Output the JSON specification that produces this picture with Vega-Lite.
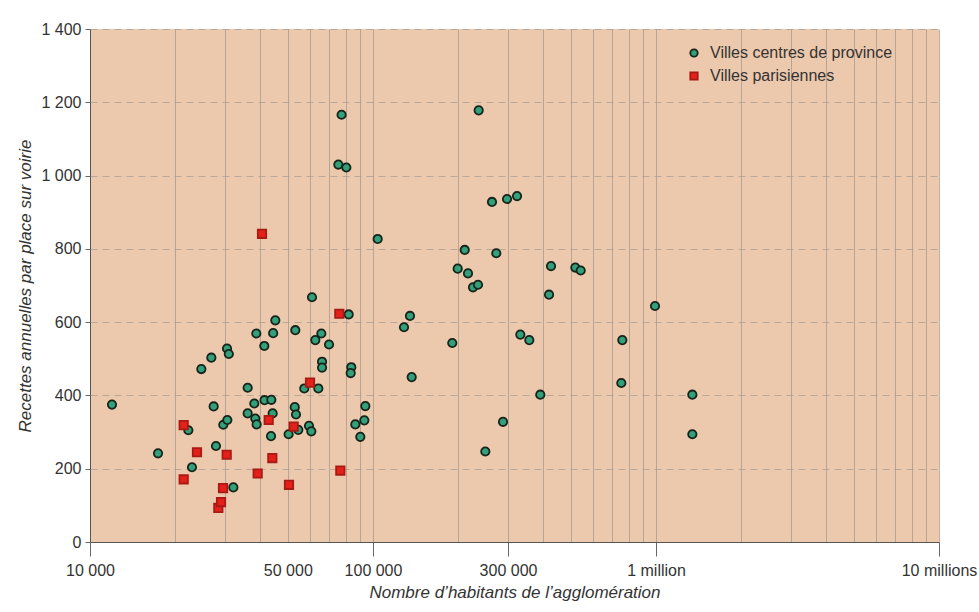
{
  "$schema": "https://vega.github.io/schema/vega-lite/v6.json",
  "width": 849,
  "height": 513,
  "autosize": "none",
  "padding": {"left": 90, "top": 29, "right": 40, "bottom": 70},
  "background": "white",
  "config": {
    "view": {"fill": "#ecc8ac", "stroke": null},
    "font": "Liberation Sans"
  },
  "data": {
    "values": [
      {"pop": 11960, "rec": 375, "type": "Villes centres de province"},
      {"pop": 17390, "rec": 242, "type": "Villes centres de province"},
      {"pop": 22260, "rec": 305, "type": "Villes centres de province"},
      {"pop": 22930, "rec": 204, "type": "Villes centres de province"},
      {"pop": 24740, "rec": 472, "type": "Villes centres de province"},
      {"pop": 26840, "rec": 503, "type": "Villes centres de province"},
      {"pop": 27350, "rec": 370, "type": "Villes centres de province"},
      {"pop": 27870, "rec": 262, "type": "Villes centres de province"},
      {"pop": 29580, "rec": 320, "type": "Villes centres de province"},
      {"pop": 30490, "rec": 528, "type": "Villes centres de province"},
      {"pop": 30570, "rec": 333, "type": "Villes centres de province"},
      {"pop": 30940, "rec": 513, "type": "Villes centres de province"},
      {"pop": 32100, "rec": 149, "type": "Villes centres de province"},
      {"pop": 36070, "rec": 421, "type": "Villes centres de province"},
      {"pop": 36070, "rec": 351, "type": "Villes centres de province"},
      {"pop": 38070, "rec": 378, "type": "Villes centres de province"},
      {"pop": 38380, "rec": 337, "type": "Villes centres de province"},
      {"pop": 38700, "rec": 569, "type": "Villes centres de province"},
      {"pop": 38800, "rec": 321, "type": "Villes centres de province"},
      {"pop": 41300, "rec": 535, "type": "Villes centres de province"},
      {"pop": 41370, "rec": 387, "type": "Villes centres de province"},
      {"pop": 43720, "rec": 388, "type": "Villes centres de province"},
      {"pop": 43620, "rec": 289, "type": "Villes centres de province"},
      {"pop": 44200, "rec": 351, "type": "Villes centres de province"},
      {"pop": 44380, "rec": 570, "type": "Villes centres de province"},
      {"pop": 45170, "rec": 605, "type": "Villes centres de province"},
      {"pop": 50330, "rec": 294, "type": "Villes centres de province"},
      {"pop": 53150, "rec": 578, "type": "Villes centres de province"},
      {"pop": 52910, "rec": 368, "type": "Villes centres de province"},
      {"pop": 53450, "rec": 348, "type": "Villes centres de province"},
      {"pop": 54460, "rec": 306, "type": "Villes centres de province"},
      {"pop": 57170, "rec": 419, "type": "Villes centres de province"},
      {"pop": 59410, "rec": 317, "type": "Villes centres de province"},
      {"pop": 60540, "rec": 302, "type": "Villes centres de province"},
      {"pop": 60880, "rec": 668, "type": "Villes centres de province"},
      {"pop": 62540, "rec": 551, "type": "Villes centres de province"},
      {"pop": 64090, "rec": 419, "type": "Villes centres de province"},
      {"pop": 65680, "rec": 569, "type": "Villes centres de province"},
      {"pop": 66060, "rec": 492, "type": "Villes centres de province"},
      {"pop": 66060, "rec": 476, "type": "Villes centres de province"},
      {"pop": 69920, "rec": 539, "type": "Villes centres de province"},
      {"pop": 77450, "rec": 1166, "type": "Villes centres de province"},
      {"pop": 75430, "rec": 1030, "type": "Villes centres de province"},
      {"pop": 80490, "rec": 1022, "type": "Villes centres de province"},
      {"pop": 82050, "rec": 621, "type": "Villes centres de province"},
      {"pop": 83800, "rec": 477, "type": "Villes centres de province"},
      {"pop": 83400, "rec": 461, "type": "Villes centres de province"},
      {"pop": 86600, "rec": 321, "type": "Villes centres de province"},
      {"pop": 90190, "rec": 287, "type": "Villes centres de province"},
      {"pop": 93180, "rec": 332, "type": "Villes centres de province"},
      {"pop": 93940, "rec": 371, "type": "Villes centres de province"},
      {"pop": 103870, "rec": 827, "type": "Villes centres de province"},
      {"pop": 128700, "rec": 586, "type": "Villes centres de province"},
      {"pop": 135100, "rec": 617, "type": "Villes centres de province"},
      {"pop": 137000, "rec": 450, "type": "Villes centres de province"},
      {"pop": 190600, "rec": 543, "type": "Villes centres de province"},
      {"pop": 199200, "rec": 746, "type": "Villes centres de province"},
      {"pop": 210900, "rec": 797, "type": "Villes centres de province"},
      {"pop": 216600, "rec": 733, "type": "Villes centres de province"},
      {"pop": 225600, "rec": 695, "type": "Villes centres de province"},
      {"pop": 235000, "rec": 702, "type": "Villes centres de province"},
      {"pop": 236300, "rec": 1178, "type": "Villes centres de province"},
      {"pop": 249400, "rec": 247, "type": "Villes centres de province"},
      {"pop": 263300, "rec": 928, "type": "Villes centres de province"},
      {"pop": 272700, "rec": 788, "type": "Villes centres de province"},
      {"pop": 288000, "rec": 328, "type": "Villes centres de province"},
      {"pop": 297600, "rec": 936, "type": "Villes centres de province"},
      {"pop": 322800, "rec": 944, "type": "Villes centres de province"},
      {"pop": 331600, "rec": 566, "type": "Villes centres de province"},
      {"pop": 356700, "rec": 551, "type": "Villes centres de province"},
      {"pop": 390100, "rec": 402, "type": "Villes centres de province"},
      {"pop": 418800, "rec": 675, "type": "Villes centres de province"},
      {"pop": 425600, "rec": 753, "type": "Villes centres de province"},
      {"pop": 518700, "rec": 749, "type": "Villes centres de province"},
      {"pop": 541900, "rec": 741, "type": "Villes centres de province"},
      {"pop": 754100, "rec": 434, "type": "Villes centres de province"},
      {"pop": 760300, "rec": 551, "type": "Villes centres de province"},
      {"pop": 991900, "rec": 644, "type": "Villes centres de province"},
      {"pop": 1344000, "rec": 402, "type": "Villes centres de province"},
      {"pop": 1344000, "rec": 294, "type": "Villes centres de province"},
      {"pop": 21430, "rec": 319, "type": "Villes parisiennes"},
      {"pop": 21430, "rec": 171, "type": "Villes parisiennes"},
      {"pop": 23880, "rec": 245, "type": "Villes parisiennes"},
      {"pop": 28410, "rec": 93, "type": "Villes parisiennes"},
      {"pop": 29040, "rec": 109, "type": "Villes parisiennes"},
      {"pop": 29510, "rec": 147, "type": "Villes parisiennes"},
      {"pop": 30410, "rec": 238, "type": "Villes parisiennes"},
      {"pop": 39130, "rec": 187, "type": "Villes parisiennes"},
      {"pop": 40530, "rec": 841, "type": "Villes parisiennes"},
      {"pop": 42800, "rec": 333, "type": "Villes parisiennes"},
      {"pop": 44080, "rec": 229, "type": "Villes parisiennes"},
      {"pop": 50480, "rec": 156, "type": "Villes parisiennes"},
      {"pop": 52440, "rec": 315, "type": "Villes parisiennes"},
      {"pop": 59900, "rec": 435, "type": "Villes parisiennes"},
      {"pop": 76030, "rec": 623, "type": "Villes parisiennes"},
      {"pop": 76650, "rec": 195, "type": "Villes parisiennes"}
    ]
  },
  "mark": {"type": "point", "filled": true, "opacity": 1, "strokeWidth": 1.8, "size": 70},
  "encoding": {
    "x": {
      "field": "pop",
      "type": "quantitative",
      "scale": {"type": "log", "domain": [10000, 10000000], "nice": false},
      "axis": {
        "title": "Nombre d’habitants de l’agglomération",
        "titleFont": "Liberation Sans",
        "titleFontSize": 17,
        "titleFontStyle": "italic",
        "titleFontWeight": "normal",
        "titleColor": "#333333",
        "titlePadding": 6,
        "values": [10000, 20000, 30000, 40000, 50000, 60000, 70000, 80000, 90000, 100000, 200000, 300000, 400000, 500000, 600000, 700000, 800000, 900000, 1000000, 2000000, 3000000, 4000000, 5000000, 6000000, 7000000, 8000000, 9000000, 10000000],
        "labelExpr": "datum.value == 10000 ? '10 000' : datum.value == 50000 ? '50 000' : datum.value == 100000 ? '100 000' : datum.value == 300000 ? '300 000' : datum.value == 1000000 ? '1 million' : datum.value == 10000000 ? '10 millions' : ''",
        "labelOverlap": false,
        "labelFlush": false,
        "labelFontSize": 16,
        "labelColor": "#333333",
        "labelPadding": 6,
        "tickSize": 14,
        "tickColor": "#666666",
        "tickOpacity": {"condition": {"test": "datum.value == 10000 || datum.value == 100000 || datum.value == 300000 || datum.value == 1000000 || datum.value == 10000000", "value": 1}, "value": 0},
        "domainColor": "#555555",
        "grid": true,
        "gridColor": "#a8988c",
        "gridOpacity": 0.75,
        "gridWidth": 1
      }
    },
    "y": {
      "field": "rec",
      "type": "quantitative",
      "scale": {"domain": [0, 1400], "nice": false},
      "axis": {
        "title": "Recettes annuelles par place sur voirie",
        "titleFont": "Liberation Sans",
        "titleFontSize": 17,
        "titleFontStyle": "italic",
        "titleFontWeight": "normal",
        "titleColor": "#333333",
        "titlePadding": 6,
        "values": [0, 200, 400, 600, 800, 1000, 1200, 1400],
        "labelExpr": "replace(format(datum.value, ','), ',', ' ')",
        "labelFontSize": 16,
        "labelColor": "#333333",
        "labelPadding": 4,
        "tickSize": 5,
        "tickColor": "#666666",
        "domainColor": "#555555",
        "grid": true,
        "gridColor": "#a89c94",
        "gridDash": [7, 5],
        "gridOpacity": 0.75
      }
    },
    "color": {
      "field": "type",
      "type": "nominal",
      "scale": {"domain": ["Villes centres de province", "Villes parisiennes"], "range": ["#33a07a", "#e5201b"]},
      "legend": {
        "title": null,
        "orient": "none",
        "legendX": 596,
        "legendY": 16,
        "labelFontSize": 16,
        "labelColor": "#333333",
        "labelLimit": 400,
        "symbolSize": 55,
        "symbolStrokeWidth": 1.8,
        "rowPadding": 7,
        "labelOffset": 8
      }
    },
    "shape": {
      "field": "type",
      "type": "nominal",
      "scale": {"domain": ["Villes centres de province", "Villes parisiennes"], "range": ["circle", "square"]}
    },
    "stroke": {
      "field": "type",
      "type": "nominal",
      "scale": {"domain": ["Villes centres de province", "Villes parisiennes"], "range": ["#16241c", "#a81a14"]}
    }
  }
}
